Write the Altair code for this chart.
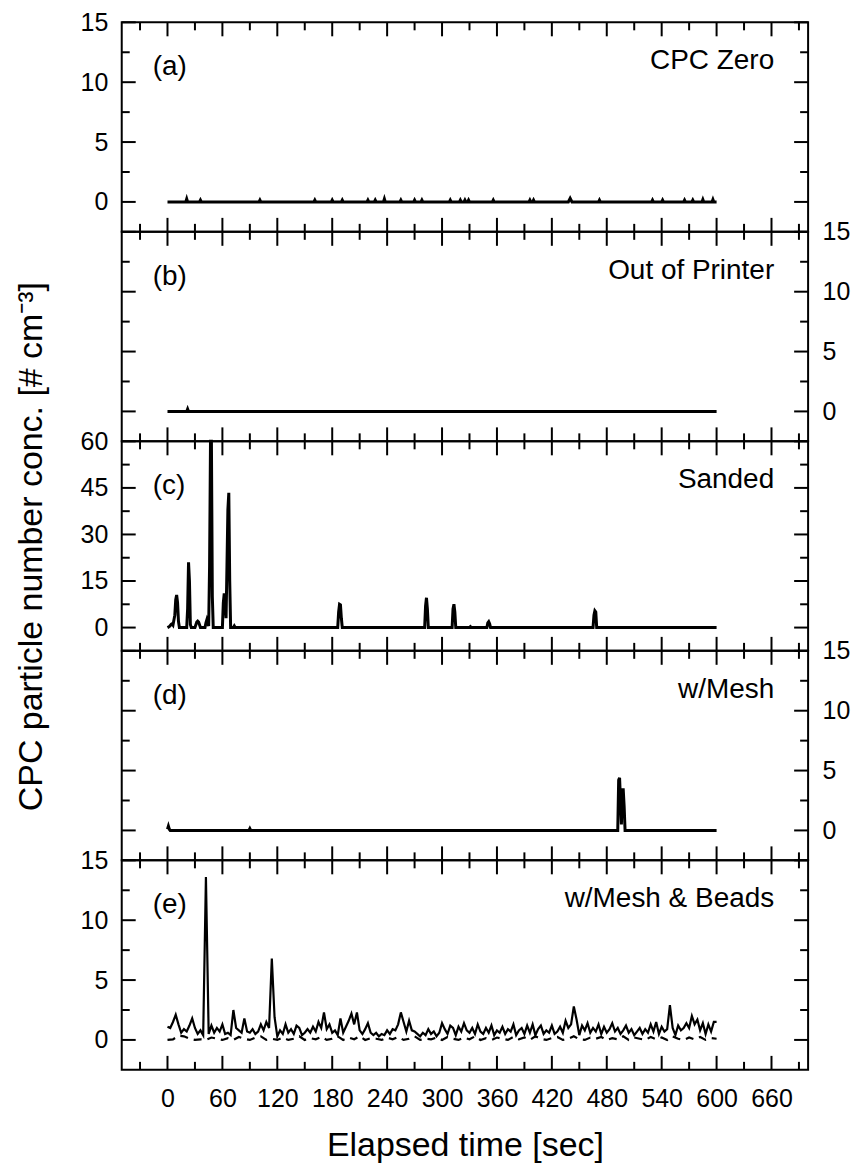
import altair as alt
import pandas as pd

FONT = "Liberation Sans"
W, H = 688, 210
X_DOMAIN = [-50, 700]

# ---- tick values ----
x_major = [0, 60, 120, 180, 240, 300, 360, 420, 480, 540, 600, 660]
x_minor = [-30, 30, 90, 150, 210, 270, 330, 390, 450, 510, 570, 630, 690]
y15_major = [0, 5, 10, 15]
y15_minor = [2.5, 7.5, 12.5]
y60_major = [0, 15, 30, 45, 60]
y60_minor = [7.5, 22.5, 37.5, 52.5]

# ---- (a) CPC Zero ----
a_t = [0, 20, 21, 22, 35, 36, 37, 100, 101, 102, 160, 161, 162, 179, 180, 181,
       190, 191, 192, 218, 219, 220, 226, 227, 228, 236, 237, 238, 254, 255, 256,
       269, 270, 271, 277, 278, 279, 308, 309, 310, 319, 320, 321, 324, 325, 326,
       328, 329, 330, 355, 356, 357, 395, 396, 397, 399, 400, 401, 438, 440, 442,
       471, 472, 473, 529, 530, 531, 540, 541, 542, 564, 565, 566, 573, 574, 575,
       584, 585, 586, 595, 596, 597, 600]
a_v = [0, 0, 0.25, 0, 0, 0.15, 0, 0, 0.15, 0, 0, 0.15, 0, 0, 0.15, 0,
       0, 0.15, 0, 0, 0.15, 0, 0, 0.15, 0, 0, 0.25, 0, 0, 0.15, 0,
       0, 0.15, 0, 0, 0.15, 0, 0, 0.15, 0, 0, 0.15, 0, 0, 0.15, 0,
       0, 0.15, 0, 0, 0.15, 0, 0, 0.15, 0, 0, 0.15, 0, 0, 0.3, 0,
       0, 0.15, 0, 0, 0.15, 0, 0, 0.15, 0, 0, 0.15, 0, 0, 0.15, 0,
       0, 0.2, 0, 0, 0.2, 0, 0]

# ---- (b) Out of Printer ----
b_t = [0, 21, 22, 23, 600]
b_v = [0, 0, 0.2, 0, 0]

# ---- (c) Sanded ----
c_t = [0, 2, 4, 5, 6, 8, 9, 10, 11, 12, 13,
       21, 22, 23, 24, 25, 26,
       30, 32, 33, 34, 36,
       41, 42, 43, 44, 45, 46, 47, 48, 49, 50,
       60, 61, 62, 63, 64, 65, 66, 67, 68, 69,
       72, 73, 74,
       186, 187, 188, 189, 190, 191,
       281, 282, 283, 284, 285,
       311, 312, 313, 314, 315,
       330, 331, 332,
       349, 350, 351, 352, 353,
       465, 466, 467, 468, 469,
       600]
c_v = [0, 0.3, 1.0, 1.2, 0.8, 4.0, 9.0, 10.5, 8.0, 2.0, 0,
       0, 6.0, 21.0, 15.0, 1.0, 0,
       0, 1.8, 2.1, 1.8, 0,
       0, 1.5, 2.5, 1.5, 0.5, 20.0, 60.0, 60.0, 10.0, 0,
       0, 8.0, 11.0, 9.0, 3.0, 20.0, 38.0, 43.4, 15.0, 0,
       0, 0.5, 0,
       0, 5.0, 7.5, 7.3, 3.0, 0,
       0, 7.0, 9.6, 6.0, 0,
       0, 6.0, 7.5, 5.0, 0,
       0, 0.3, 0,
       0, 1.5, 1.9, 1.2, 0,
       0, 4.0, 5.4, 5.0, 0,
       0]

# ---- (d) w/Mesh ----
d_t = [0, 1, 2, 3, 89, 90, 91, 492, 493, 494, 495, 496, 497, 498, 499, 500, 600]
d_v = [0.1, 0.35, 0.1, 0, 0, 0.15, 0, 0, 4.2, 4.4, 2.5, 0.5, 3.4, 3.4, 2.0, 0, 0]

# ---- (e) w/Mesh & Beads : solid series, sampled every 3 s from 0 to 600 ----
e_v = [1.1, 1.0, 1.5, 2.1, 1.3, 0.6, 0.9, 0.7, 1.2, 1.8,
       1.0, 0.5, 0.8, 0.4, 13.6, 0.5, 1.2, 0.6, 1.0, 0.7,
       1.3, 0.5, 0.6, 0.4, 2.5, 1.0, 0.8, 0.6, 1.8, 0.7,
       0.6, 0.9, 0.5, 0.7, 1.3, 0.8, 1.5, 1.0, 6.8, 1.9,
       0.3, 0.8, 0.5, 1.3, 0.6, 0.9, 0.5, 1.2, 1.0, 0.4,
       0.6, 0.9, 0.6, 1.1, 0.7, 1.5, 1.0, 2.3, 0.9, 1.3,
       0.6, 0.8, 0.4, 1.8, 0.6, 1.1, 1.6, 2.2, 1.3, 2.3,
       0.8, 0.5, 0.9, 1.4, 0.6, 0.4, 0.6, 0.3, 0.5, 0.4,
       0.8, 0.5, 0.9, 0.8, 1.3, 2.3, 1.5, 0.7, 1.6, 0.8,
       0.7, 0.5, 0.3, 0.6, 0.4, 0.9, 0.5, 0.7, 0.3, 0.6,
       1.4, 0.9, 0.5, 1.2, 1.0, 0.4, 1.1, 0.7, 1.4, 0.8,
       0.6, 1.0, 0.5, 1.3, 0.7, 0.5, 1.0, 0.6, 1.2, 0.4,
       0.8, 0.6, 1.1, 0.5, 0.9, 0.7, 1.3, 0.4, 0.8, 1.0,
       0.5, 1.2, 0.6, 1.3, 0.4, 0.9, 1.2, 0.5, 0.8, 0.6,
       1.2, 0.5, 0.7, 1.1, 0.6, 1.6, 1.0, 1.3, 2.8, 1.7,
       0.4, 1.2, 0.8, 1.4, 0.6, 1.0, 0.7, 1.3, 0.5, 1.1,
       0.6, 0.9, 1.4, 0.7, 1.0, 0.5, 0.8, 1.2, 0.6, 0.9,
       0.4, 0.7, 1.0, 0.5, 0.9, 0.6, 1.3, 0.7, 1.5, 0.5,
       1.1, 0.7, 0.9, 2.9, 1.0, 0.4, 1.2, 0.8, 1.0, 1.4,
       1.0, 2.0, 1.3, 1.7, 0.8, 1.4, 0.5, 1.3, 0.7, 1.5,
       1.5]
e_t = list(range(0, 601, 3))

# ---- (e) dashed series, sampled every 6 s ----
e2_v = [0.0, 0.05, 0.35, 0.3, 0.1, 0.0, 0.05, 0.0, 0.2, 0.1,
        0.0, 0.15, 0.0, 0.25, 0.1, 0.0, 0.2, 0.3, 0.0, 0.1,
        0.0, 0.2, 0.0, 0.1, 0.3, 0.0, 0.15, 0.05, 0.25, 0.0,
        0.1, 0.3, 0.0, 0.2, 0.05, 0.3, 0.0, 0.15, 0.1, 0.0,
        0.2, 0.05, 0.25, 0.0, 0.1, 0.3, 0.0, 0.1, 0.05, 0.2,
        0.0, 0.25, 0.1, 0.0, 0.2, 0.05, 0.3, 0.0, 0.15, 0.0,
        0.2, 0.1, 0.0, 0.25, 0.05, 0.2, 0.0, 0.3, 0.1, 0.0,
        0.15, 0.25, 0.0, 0.1, 0.3, 0.05, 0.0, 0.2, 0.1, 0.25,
        0.0, 0.15, 0.05, 0.3, 0.0, 0.2, 0.1, 0.0, 0.25, 0.05,
        0.2, 0.0, 0.3, 0.1, 0.0, 0.2, 0.05, 0.25, 0.0, 0.15,
        0.1]
e2_t = list(range(0, 601, 6))

assert len(a_t) == len(a_v) and len(c_t) == len(c_v) and len(d_t) == len(d_v)
assert len(e_t) == len(e_v) and len(e2_t) == len(e2_v)

tags = ["(a)", "(b)", "(c)", "(d)", "(e)"]
names = ["CPC Zero", "Out of Printer", "Sanded", "w/Mesh", "w/Mesh & Beads"]


def frame(t, v):
    return pd.DataFrame({"t": t, "v": v})


def panel(series, y_domain, y_major, y_minor, side, tag, name,
          x_axis=False, y_title=None):
    xs = alt.Scale(domain=X_DOMAIN, nice=False, zero=False)
    ys = alt.Scale(domain=y_domain, nice=False, zero=False)
    layers = []
    for i, (df, dash, sw) in enumerate(series):
        mk = dict(color="black", strokeWidth=sw)
        if dash:
            mk["strokeDash"] = dash
        if i == 0:
            yax = dict(orient=side, values=y_major, ticks=False, domain=False,
                       grid=False, labelPadding=14, labelFontSize=25)
            if y_title:
                yax.update(titlePadding=32, titleFontSize=34)
            yenc = alt.Y("v:Q", scale=ys, axis=alt.Axis(**yax),
                         title=y_title if y_title else None)
            if x_axis:
                xenc = alt.X("t:Q", scale=xs, title="Elapsed time [sec]",
                             axis=alt.Axis(orient="bottom", values=x_major,
                                           ticks=False, domain=False, grid=False,
                                           labelPadding=17, labelFontSize=25,
                                           labelFlush=False, titleFontSize=34,
                                           titlePadding=17))
            else:
                xenc = alt.X("t:Q", scale=xs, axis=None)
        else:
            yenc = alt.Y("v:Q", scale=ys, axis=None)
            xenc = alt.X("t:Q", scale=xs, axis=None)
        layers.append(alt.Chart(df).mark_line(**mk).encode(x=xenc, y=yenc))

    xmaj = pd.DataFrame({"v": x_major})
    xmin = pd.DataFrame({"v": x_minor})
    ymaj = pd.DataFrame({"v": y_major})
    ymin = pd.DataFrame({"v": y_minor})
    for dfx, ln in ((xmaj, 14), (xmin, 8)):
        base = alt.Chart(dfx).mark_rule(color="black", strokeWidth=2)
        xe = alt.X("v:Q", scale=xs, axis=None)
        layers.append(base.encode(x=xe, y=alt.value(0), y2=alt.value(ln)))
        layers.append(base.encode(x=xe, y=alt.value(H - ln), y2=alt.value(H)))
    for dfy, ln in ((ymaj, 14), (ymin, 8)):
        base = alt.Chart(dfy).mark_rule(color="black", strokeWidth=2)
        ye = alt.Y("v:Q", scale=ys, axis=None)
        layers.append(base.encode(y=ye, x=alt.value(0), x2=alt.value(ln)))
        layers.append(base.encode(y=ye, x=alt.value(W - ln), x2=alt.value(W)))

    txt = pd.DataFrame({"tag": [tag], "name": [name]})
    layers.append(alt.Chart(txt).mark_text(align="left", baseline="alphabetic",
                                           fontSize=28, color="black")
                  .encode(text="tag:N", x=alt.value(31), y=alt.value(53)))
    layers.append(alt.Chart(txt).mark_text(align="right", baseline="alphabetic",
                                           fontSize=28, color="black")
                  .encode(text="name:N", x=alt.value(654), y=alt.value(47)))
    return (alt.layer(*layers).properties(width=W, height=H)
            .resolve_axis(x="independent", y="independent"))


pa = panel([(frame(a_t, a_v), None, 3)], [-2.5, 15], y15_major, y15_minor,
           "left", tags[0], names[0])
pb = panel([(frame(b_t, b_v), None, 3)], [-2.5, 15], y15_major, y15_minor,
           "right", tags[1], names[1])
pc = panel([(frame(c_t, c_v), None, 3)], [-7.5, 60], y60_major, y60_minor,
           "left", tags[2], names[2],
           y_title="CPC particle number conc. [# cm\u207b\u00b3]")
pd_ = panel([(frame(d_t, d_v), None, 3)], [-2.5, 15], y15_major, y15_minor,
            "right", tags[3], names[3])
pe = panel([(frame(e_t, e_v), None, 2.2), (frame(e2_t, e2_v), [8, 6], 2.2)],
           [-2.5, 15], y15_major, y15_minor, "left", tags[4], names[4],
           x_axis=True)

chart = (
    alt.vconcat(pa, pb, pc, pd_, pe, spacing=0, bounds="flush")
    .properties(padding={"left": 5, "top": 0, "right": 0, "bottom": 0})
    .configure(font=FONT)
    .configure_view(stroke="black", strokeWidth=2)
    .configure_axis(labelFont=FONT, titleFont=FONT, labelColor="black",
                    titleColor="black", titleFontWeight="normal")
    .configure_text(font=FONT)
)

chart.save("out.html", embed_options={"renderer": "svg", "actions": False})
